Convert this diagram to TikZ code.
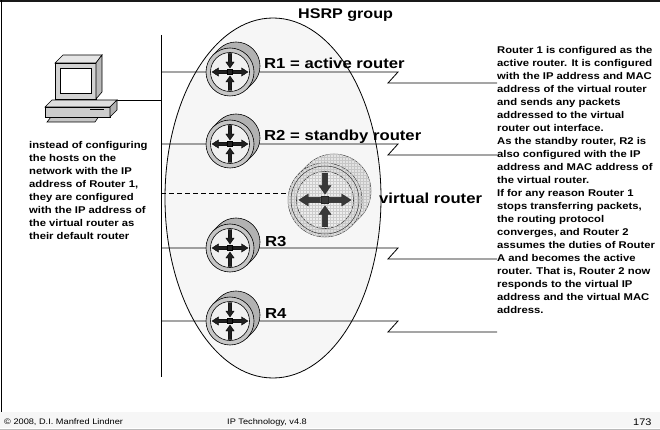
\documentclass[tikz,border=0pt]{standalone}
\usepackage{fontspec}
\setmainfont[FakeStretch=1.15]{Liberation Sans}
\usetikzlibrary{positioning,calc,patterns,backgrounds}

% router icon: dark cylinder behind a ringed face with four arrows
\tikzset{
  router/.pic={
    \filldraw[fill=gray!60, line width=0.6pt] (-135:24) -- ++(6,-6) arc[start angle=-135, end angle=45, radius=24] -- ++(-6,6) -- cycle;
    \node[face] (-c) at (0,0) {};
    \filldraw[fill=gray!12, line width=0.6pt] (0,0) circle (19.5);
    \foreach \a in {0,180}
      \filldraw[arr, rotate=\a] (3,-1.8) -- (11.5,-1.8) -- (11.5,-4.2) -- (18,0) -- (11.5,4.2) -- (11.5,1.8) -- (3,1.8) -- cycle;
    \foreach \a in {90,270}
      \filldraw[arr, rotate=\a] (18.5,-1.8) -- (10,-1.8) -- (10,-4.2) -- (4,0) -- (10,4.2) -- (10,1.8) -- (18.5,1.8) -- cycle;
    \filldraw[arr] (-2.5,-2.5) rectangle (2.5,2.5);
  },
  vrouter/.pic={
    \filldraw[fill=gray!22, draw=gray!45!black, line width=0.5pt, postaction={pattern=grid, pattern color=gray!45}] (-135:37) -- ++(9,-9) arc[start angle=-135, end angle=45, radius=37] -- ++(-9,9) -- cycle;
    \node[vface] (-c) at (0,0) {};
    \draw[gray!45!black, line width=0.5pt] (0,0) circle (34);
    \filldraw[fill=gray!14, draw=gray!45!black, line width=0.6pt, postaction={pattern=grid, pattern color=gray!40}] (0,0) circle (28.5);
    \begin{scope}[scale=1.45]
      \foreach \a in {0,180}
        \filldraw[varr, rotate=\a] (3,-1.8) -- (11.5,-1.8) -- (11.5,-4.2) -- (18,0) -- (11.5,4.2) -- (11.5,1.8) -- (3,1.8) -- cycle;
      \foreach \a in {90,270}
        \filldraw[varr, rotate=\a] (18.5,-1.8) -- (10,-1.8) -- (10,-4.2) -- (4,0) -- (10,4.2) -- (10,1.8) -- (18.5,1.8) -- cycle;
      \filldraw[varr] (-2.5,-2.5) rectangle (2.5,2.5);
    \end{scope}
  }
}

\begin{document}
\begin{tikzpicture}[x=1pt, y=-1pt,
    face/.style={circle, draw, line width=0.6pt, fill=gray!45, minimum size=48pt, inner sep=0pt},
    vface/.style={circle, draw=gray!45!black, line width=0.5pt, fill=gray!25, minimum size=74pt, inner sep=0pt, postaction={pattern=grid, pattern color=gray!45}},
    arr/.style={fill=gray!25!black, draw=black, line width=0.3pt},
    varr/.style={fill=gray!45!black, draw=gray!30!black, line width=0.3pt},
    lbl/.style={font=\fontsize{14.5}{17}\selectfont\bfseries, anchor=base west, inner sep=0pt},
    note/.style={font=\fontsize{9.8}{13}\selectfont\bfseries, align=left, anchor=north west, inner sep=0pt},
    foot/.style={font=\fontsize{8}{10}\selectfont, anchor=base west, inner sep=0pt},
    link/.style={line width=0.8pt}
]
\useasboundingbox (0,0) rectangle (660,430);

% slide frame and footer
\fill[gray!7] (0,412) rectangle (660,428);
\draw[gray!55, line width=1pt] (0,429) -- (660,429);
\draw[gray!20!black, line width=2.5pt] (0,1) -- (660,1);
\draw[line width=1.5pt] (1.5,0) -- (1.5,412);
\node[foot] (copy) at (4,424) {© 2008, D.I. Manfred Lindner};
\node[foot] (course) at (227,424) {IP Technology, v4.8};
\node[foot, font=\fontsize{9.5}{11}\selectfont] (page) at (633,425) {173};

% host PC
\filldraw[fill=gray!45, line width=0.6pt] (47,122) -- (95,122) -- (102,112) -- (55,112) -- cycle;
\filldraw[fill=gray!25, line width=0.6pt] (45,107) -- (52,100) -- (117,100) -- (110,107) -- cycle;
\filldraw[fill=gray!40, line width=0.6pt] (45,107) rectangle (110,117);
\filldraw[fill=gray!60, line width=0.6pt] (110,107) -- (117,100) -- (117,110) -- (110,117) -- cycle;
\draw[line width=1pt] (90,110) -- (104,110);
\filldraw[fill=gray!20, line width=0.6pt] (55,63) -- (63,55) -- (102,55) -- (96,63) -- cycle;
\filldraw[fill=gray!35, line width=0.6pt] (55,63) rectangle (96,99);
\filldraw[fill=gray!55, line width=0.6pt] (96,63) -- (102,55) -- (102,92) -- (96,99) -- cycle;
\filldraw[fill=white, line width=0.6pt] (60,68) rectangle (91,93);
\coordinate (pc) at (117,100);

% routers of the group
\pic (r1) at (230,72) {router};
\pic (r2) at (230,144) {router};
\pic (r3) at (230,248) {router};
\pic (r4) at (230,321) {router};
\pic (v) at (325,200) {vrouter};

\node[lbl, font=\fontsize{14}{17}\selectfont\bfseries] (grp) at (298,19) {HSRP group};
\node[lbl] (r1l) at (264,69) {R1 = active router};
\node[lbl] (r2l) at (264,141) {R2 = standby router};
\node[lbl] (vl) at (379,204) {virtual router};
\node[lbl] (r3l) at (265,246) {R3};
\node[lbl] (r4l) at (265,318) {R4};

\node[note] (hosttxt) at (29,141) {instead of configuring\\the hosts on the\\network with the IP\\address of Router 1,\\they are configured\\with the IP address of\\the virtual router as\\their default router};
\node[note] (expl) at (497,46) {Router 1 is configured as the\\active router. It is configured\\with the IP address and MAC\\address of the virtual router\\and sends any packets\\addressed to the virtual\\router out interface.\\As the standby router, R2 is\\also configured with the IP\\address and MAC address of\\the virtual router.\\If for any reason Router 1\\stops transferring packets,\\the routing protocol\\converges, and Router 2\\assumes the duties of Router\\A and becomes the active\\router. That is, Router 2 now\\responds to the virtual IP\\address and the virtual MAC\\address.};

% group outline, LAN and serial links
\begin{scope}[on background layer]
  \filldraw[fill=gray!7, line width=0.8pt] (273,198) ellipse [x radius=108, y radius=180];
  \coordinate (bustop) at (161,35);
  \coordinate (busbot) at (161,377);
  \coordinate (zig) at (398,0);
  \draw[link] (bustop) -- (busbot);
  \draw[link] (pc) -- (pc -| bustop);
  \draw[link, dash pattern=on 5pt off 3pt] (bustop |- v-c.170) -- (v-c.170);
  \foreach \r in {r1,r2,r3,r4}
    \draw[link] (bustop |- \r-c) -- (\r-c -| zig) -- ++(-10,11) -- ++(109,0);
\end{scope}
\end{tikzpicture}
\end{document}
